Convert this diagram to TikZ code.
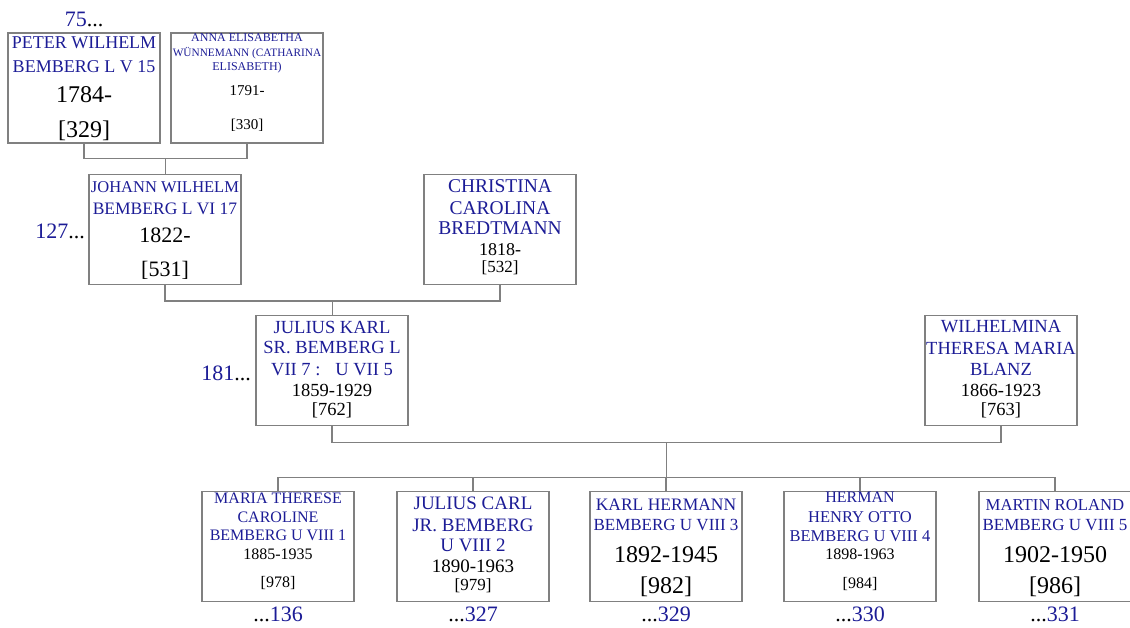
\documentclass[tikz,border=0pt]{standalone}
\usepackage{fontspec}
\setmainfont{Liberation Serif}
\usetikzlibrary{calc}
\definecolor{nameblue}{RGB}{28,28,150}
\definecolor{boxgray}{RGB}{128,128,128}
\tikzset{
  box/.style={draw=boxgray, line width=1.1pt, minimum width=152pt, minimum height=110pt, inner sep=0pt},
  conn/.style={draw=boxgray, line width=1.1pt},
  nm/.style={text=nameblue, inner sep=0pt, font=\fontsize{#1}{#1}\selectfont},
  dt/.style={text=black, inner sep=0pt, font=\fontsize{#1}{#1}\selectfont},
  refl/.style={inner sep=0pt, font=\fontsize{22}{22}\selectfont},
}
\newcommand\bl[1]{\textcolor{nameblue}{#1}}
\begin{document}
\begin{tikzpicture}[x=1pt,y=-1pt]
\useasboundingbox (0,0) rectangle (1130,628);
% boxes
\node[box] (peter) at (84,88) {};
\node[box] (anna) at (247,88) {};
\node[box] (johann) at (165,229.5) {};
\node[box] (christina) at (500,229.5) {};
\node[box] (julius) at (332,370.5) {};
\node[box] (wilhelmina) at (1001,370.5) {};
\node[box] (maria) at (278,546.5) {};
\node[box] (jcarl) at (473,546.5) {};
\node[box] (karl) at (666,546.5) {};
\node[box] (herman) at (860,546.5) {};
\node[box] (martin) at (1055,546.5) {};
% connectors
\draw[conn] (peter.south) -- ++(0,15) -| (anna.south);
\coordinate (m1) at ($(peter.south)!.5!(anna.south)+(0,15)$);
\draw[conn] (m1) -- (m1 |- johann.north);
\draw[conn] (johann.south) -- ++(0,16) -| (christina.south);
\coordinate (m2) at ($(johann.south)!.5!(christina.south)+(0,16)$);
\draw[conn] (m2) -- (m2 |- julius.north);
\draw[conn] (julius.south) -- ++(0,16) -| (wilhelmina.south);
\coordinate (m3) at ($(julius.south)!.5!(wilhelmina.south)+(0,16)$);
\coordinate (bus) at ($(m3)+(0,35)$);
\draw[conn] (m3) -- (bus);
\draw[conn] (maria.north |- bus) -- (martin.north |- bus);
\foreach \c in {maria,jcarl,karl,herman,martin}{
  \draw[conn] (\c.north) -- (\c.north |- bus);
}
% Peter
\node[nm=18] (peter-n1) at (84,43) {PETER WILHELM};
\node[nm=18] (peter-n2) at (84,67) {BEMBERG L V 15};
\node[dt=24] (peter-d) at (84,95) {1784-};
\node[dt=24] (peter-r) at (84,131) {[329]};
% Anna
\node[nm=12] (anna-n1) at (247,38) {ANNA ELISABETHA};
\node[nm=11.3] (anna-n2) at (247,53) {WÜNNEMANN (CATHARINA};
\node[nm=12] (anna-n3) at (247,68) {ELISABETH)};
\node[dt=15] (anna-d) at (247,91) {1791-};
\node[dt=15] (anna-r) at (247,125) {[330]};
% Johann
\node[nm=16.5] (johann-n1) at (165,187) {JOHANN WILHELM};
\node[nm=17.5] (johann-n2) at (165,209) {BEMBERG L VI 17};
\node[dt=22] (johann-d) at (165,235) {1822-};
\node[dt=22] (johann-r) at (165,270) {[531]};
% Christina
\node[nm=19.5] (christina-n1) at (500,186) {CHRISTINA};
\node[nm=19.5] (christina-n2) at (500,208) {CAROLINA};
\node[nm=19.5] (christina-n3) at (500,228) {BREDTMANN};
\node[dt=18] (christina-d) at (500,250) {1818-};
\node[dt=17] (christina-r) at (500,268) {[532]};
% Julius
\node[nm=18.5] (julius-n1) at (332,327) {JULIUS KARL};
\node[nm=18.5] (julius-n2) at (332,348) {SR. BEMBERG L};
\node[nm=18.5] (julius-n3) at (332,370) {VII 7 :\hspace{0.8em}U VII 5};
\node[dt=18.5] (julius-d) at (332,390) {1859-1929};
\node[dt=18.5] (julius-r) at (332,410) {[762]};
% Wilhelmina
\node[nm=18.5] (wilhelmina-n1) at (1001,327) {WILHELMINA};
\node[nm=18.5] (wilhelmina-n2) at (1001,348) {THERESA MARIA};
\node[nm=18.5] (wilhelmina-n3) at (1001,369) {BLANZ};
\node[dt=18.5] (wilhelmina-d) at (1001,390) {1866-1923};
\node[dt=18.5] (wilhelmina-r) at (1001,410) {[763]};
% Maria
\node[nm=16] (maria-n1) at (278,498) {MARIA THERESE};
\node[nm=16] (maria-n2) at (278,517) {CAROLINE};
\node[nm=16] (maria-n3) at (278,535) {BEMBERG U VIII 1};
\node[dt=16] (maria-d) at (278,554) {1885-1935};
\node[dt=16] (maria-r) at (278,583) {[978]};
% Julius Carl
\node[nm=19] (jcarl-n1) at (473,503) {JULIUS CARL};
\node[nm=19] (jcarl-n2) at (473,525) {JR. BEMBERG};
\node[nm=19] (jcarl-n3) at (473,545) {U VIII 2};
\node[dt=19] (jcarl-d) at (473,566) {1890-1963};
\node[dt=17] (jcarl-r) at (473,586) {[979]};
% Karl
\node[nm=17.5] (karl-n1) at (666,505) {KARL HERMANN};
\node[nm=17] (karl-n2) at (666,525) {BEMBERG U VIII 3};
\node[dt=24] (karl-d) at (666,555) {1892-1945};
\node[dt=24] (karl-r) at (666,587) {[982]};
% Herman
\node[nm=16] (herman-n1) at (860,497) {HERMAN};
\node[nm=16.5] (herman-n2) at (860,517) {HENRY OTTO};
\node[nm=16.5] (herman-n3) at (860,536) {BEMBERG U VIII 4};
\node[dt=16] (herman-d) at (860,554) {1898-1963};
\node[dt=16] (herman-r) at (860,584) {[984]};
% Martin
\node[nm=16.7] (martin-n1) at (1055,505) {MARTIN ROLAND};
\node[nm=17] (martin-n2) at (1055,525) {BEMBERG U VIII 5};
\node[dt=24] (martin-d) at (1055,555) {1902-1950};
\node[dt=24] (martin-r) at (1055,587) {[986]};
% reference labels
\node[refl] (up75) at (84,19) {\bl{75}...};
\node[refl, anchor=east] (up127) at (85,231) {\bl{127}...};
\node[refl, anchor=east] (up181) at (251,373) {\bl{181}...};
\node[refl] (dn136) at (278,614) {...\bl{136}};
\node[refl] (dn327) at (473,614) {...\bl{327}};
\node[refl] (dn329) at (666,614) {...\bl{329}};
\node[refl] (dn330) at (860,614) {...\bl{330}};
\node[refl] (dn331) at (1055,614) {...\bl{331}};
\end{tikzpicture}
\end{document}
